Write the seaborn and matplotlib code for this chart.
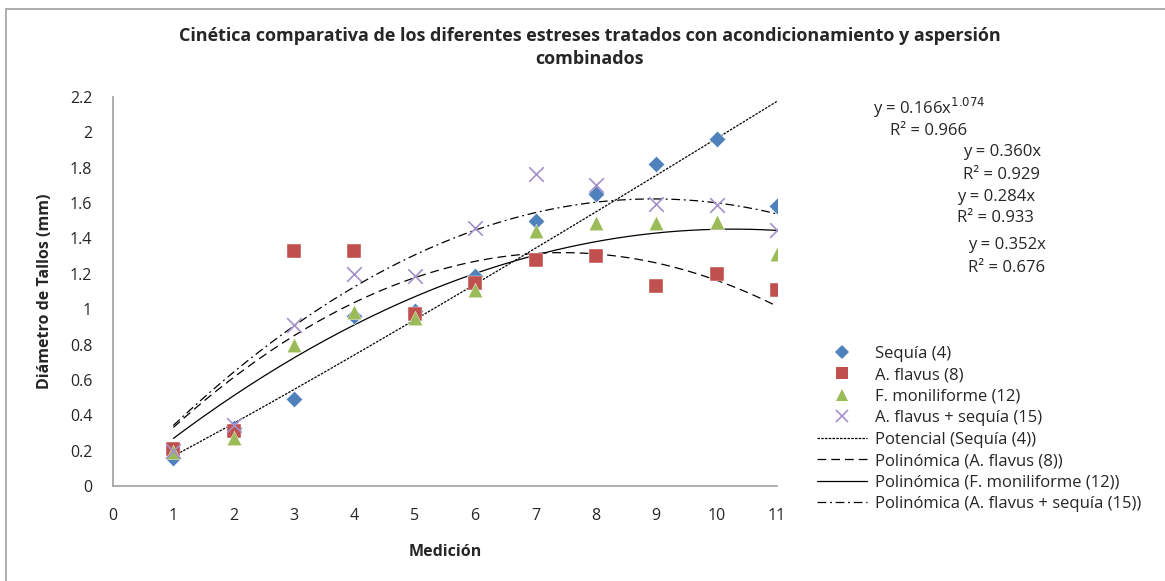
import numpy as np
import pandas as pd
import matplotlib
matplotlib.use("Agg")
import matplotlib.pyplot as plt
import seaborn as sns
from matplotlib.lines import Line2D
from matplotlib.patches import Rectangle

# ---------------------------
# Data
# ---------------------------
medicion = [1, 2, 3, 4, 5, 6, 7, 8, 9, 10, 11]
sequia = [0.16, 0.33, 0.49, 0.96, 0.99, 1.19, 1.50, 1.65, 1.82, 1.96, 1.585]
flavus = [0.21, 0.31, 1.33, 1.33, 0.975, 1.15, 1.28, 1.30, 1.13, 1.20, 1.11]
moniliforme = [0.19, 0.27, 0.80, 0.985, 0.95, 1.11, 1.44, 1.485, 1.485, 1.495, 1.31]
flavus_sequia = [0.20, 0.345, 0.91, 1.20, 1.19, 1.46, 1.765, 1.70, 1.595, 1.59, 1.45]

series_names = ["Sequía (4)", "A. flavus (8)", "F. moniliforme (12)", "A. flavus + sequía (15)"]
trend_names = ["Potencial (Sequía (4))", "Polinómica (A. flavus (8))",
               "Polinómica (F. moniliforme (12))", "Polinómica (A. flavus + sequía (15))"]
equations = [r"y = 0.166x$^{1.074}$", "R² = 0.966", "y = 0.360x", "R² = 0.929",
             "y = 0.284x", "R² = 0.933", "y = 0.352x", "R² = 0.676"]
y_ticks = [0, 0.2, 0.4, 0.6, 0.8, 1, 1.2, 1.4, 1.6, 1.8, 2, 2.2]
x_ticks = list(range(0, 12))

colors = ["#4F81BD", "#C0504D", "#9BBB59", "#A48FCB"]
markers = ["D", "s", "^", "x"]
sizes = [70, 110, 110, 110]
trend_styles = [(0, (2, 1)), (0, (7, 4)), "-", (0, (7, 3, 1.5, 3))]

sns.set_style("white")
plt.rcParams["font.family"] = ["Open Sans", "DejaVu Sans"]

fig = plt.figure(figsize=(11.65, 5.81), dpi=100)
ax = fig.add_axes([113 / 1165, 1 - 486 / 581, 664 / 1165, 389 / 581])

# outer chart frame
fig.patches.append(Rectangle((6 / 1165, -0.05), 1.2, 1 - 9 / 581 + 0.05,
                             transform=fig.transFigure, fill=False,
                             edgecolor="#A0A0A0", linewidth=1.2))

data_cols = [sequia, flavus, moniliforme, flavus_sequia]
df = pd.DataFrame({"x": medicion})
for name, vals in zip(series_names, data_cols):
    df[name] = vals

# scatter points
for name, c, m, s in zip(series_names, colors, markers, sizes):
    if m == "x":
        sns.scatterplot(data=df, x="x", y=name, ax=ax, marker=m, s=s,
                        color=c, linewidth=1.2, zorder=3)
    else:
        sns.scatterplot(data=df, x="x", y=name, ax=ax, marker=m, s=s,
                        color=c, edgecolor="white", linewidth=0.3, zorder=3)

# trendlines: power fit for Sequía, 2nd order polynomials through the origin for the rest
xs = np.linspace(1, 11, 200)
x_arr = np.array(medicion, dtype=float)
b, a = np.polyfit(np.log(x_arr), np.log(np.array(sequia)), 1)
fits = [np.exp(a) * xs ** b]
design = np.column_stack([x_arr, x_arr ** 2])
for vals in data_cols[1:]:
    coef, *_ = np.linalg.lstsq(design, np.array(vals), rcond=None)
    fits.append(coef[0] * xs + coef[1] * xs ** 2)
for yfit, ls in zip(fits, trend_styles):
    sns.lineplot(x=xs, y=yfit, ax=ax, color="black", linewidth=0.9,
                 linestyle=ls, zorder=2)

ax.set_xlim(0, 11)
ax.set_ylim(0, 2.2)
ax.set_xticks(x_ticks)
ax.set_yticks(y_ticks)
ax.set_yticklabels([f"{v:g}" for v in y_ticks])
ax.tick_params(axis="both", length=0, labelsize=11.5)
ax.tick_params(axis="x", pad=16)
ax.tick_params(axis="y", pad=15)
for side in ["top", "right"]:
    ax.spines[side].set_visible(False)
for side in ["left", "bottom"]:
    ax.spines[side].set_color("#A0A0A0")
    ax.spines[side].set_linewidth(1.2)

ax.set_xlabel("Medición", fontsize=11.5, fontweight="bold", labelpad=14)
ax.set_ylabel("Diámetro de Tallos (mm)", fontsize=11.5, fontweight="bold", labelpad=12)
fig.text(590 / 1165, 1 - 36 / 581,
         "Cinética comparativa de los diferentes estreses tratados con acondicionamiento y aspersión",
         ha="center", va="center", fontsize=13, fontweight="bold")
fig.text(590 / 1165, 1 - 59 / 581, "combinados",
         ha="center", va="center", fontsize=13, fontweight="bold")

# trendline equations
eq_pos = [(873, 108), (890, 131), (963, 152), (963, 175),
          (957, 197), (957, 218), (968, 245), (968, 268)]
for txt, (px, py) in zip(equations, eq_pos):
    fig.text(px / 1165, 1 - py / 581, txt, ha="left", va="center", fontsize=12)

# legend
handles = []
for c, m in zip(colors, markers):
    handles.append(Line2D([], [], linestyle="none", marker=m, color=c,
                          markersize=8 if m != "D" else 7, markeredgewidth=1.2 if m == "x" else 0))
for ls in trend_styles:
    handles.append(Line2D([], [], color="black", linewidth=0.9, linestyle=ls))
fig.legend(handles, series_names + trend_names, loc="upper left",
           bbox_to_anchor=(810 / 1165, 1 - 339 / 581), frameon=False,
           fontsize=12, handlelength=3.0, handletextpad=0.48,
           labelspacing=0.33, borderaxespad=0)

fig.savefig("out.png", dpi=100)
